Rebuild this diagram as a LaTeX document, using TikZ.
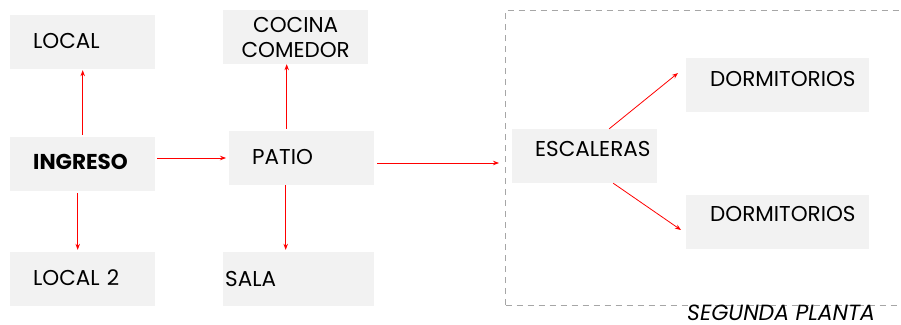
\documentclass[tikz,border=0pt]{standalone}
\usepackage{fontspec}
\setmainfont{Poppins}
\usetikzlibrary{arrows.meta,calc}
\definecolor{boxgray}{HTML}{F2F2F2}
\definecolor{framegray}{HTML}{A6A6A6}
\begin{document}
\begin{tikzpicture}[x=1pt,y=-1pt,
  box/.style={fill=boxgray, anchor=west, minimum height=54pt, inner ysep=0pt, inner xsep=0pt, align=left, font=\fontsize{21.5}{25}\selectfont},
  arr/.style={draw=red, line width=0.8pt, -{Stealth[length=6pt,width=4.5pt]}},
  frame/.style={draw=framegray, line width=1pt, dash pattern=on 6pt off 5pt}]
\useasboundingbox (0,0) rectangle (901,324);
% dashed frame (second floor)
\draw[frame] (505.5,305) -- (505.5,10) -- (930,10);
\draw[frame] (505.5,305) -- (930,305);
\coordinate (framewest) at (505.5,157);
% boxes
\node[box, text width=145pt] (LOCAL) at (10,42) {\hspace*{23pt}\raisebox{2pt}{LOCAL}};
\node[box, text width=145pt] (INGRESO) at (10,164) {\hspace*{23pt}\raisebox{4pt}{\textbf{INGRESO}}};
\node[box, text width=145pt] (LOCAL2) at (10,279) {\hspace*{23pt}\raisebox{2pt}{LOCAL 2}};
\node[box, text width=145pt, align=center] (COCINA) at (223,37) {COCINA\\COMEDOR};
\node[box, text width=145pt] (PATIO) at (229,158) {\hspace*{23pt}\raisebox{2.5pt}{PATIO}};
\node[box, text width=151pt] (SALA) at (223,279) {\hspace*{2pt}\raisebox{1pt}{SALA}};
\node[box, text width=145pt] (ESCALERAS) at (512,156) {\hspace*{23pt}\raisebox{15pt}{ESCALERAS}};
\node[box, text width=183pt] (DORM1) at (686,85) {\hspace*{24pt}\raisebox{13pt}{DORMITORIOS}};
\node[box, text width=183pt] (DORM2) at (686,222) {\hspace*{24pt}\raisebox{17pt}{DORMITORIOS}};
\node[anchor=base west, inner sep=0pt, font=\fontsize{22}{26}\selectfont\itshape] (SEGUNDA) at (687,320) {SEGUNDA PLANTA};
% connectors
\draw[arr, shorten <=2pt, shorten >=1pt] (INGRESO.north) -- (LOCAL.south);
\draw[arr, shorten <=2pt, shorten >=2pt] ([xshift=-5pt]INGRESO.south) -- ([xshift=-5pt]INGRESO.south |- LOCAL2.north);
\draw[arr, shorten <=2pt, shorten >=3pt] ([yshift=6pt]INGRESO.east) -- (PATIO.west);
\draw[arr, shorten <=2pt, shorten >=0pt] ([xshift=-15pt]PATIO.north) -- ([xshift=-15pt]PATIO.north |- COCINA.south);
\draw[arr, shorten <=0pt, shorten >=2pt] ([xshift=-16pt]PATIO.south) -- ([xshift=-16pt]PATIO.south |- SALA.north);
\draw[arr, shorten <=3pt, shorten >=6.5pt] ([yshift=-5pt]PATIO.east) -- ([yshift=-5pt]PATIO.east -| framewest);
\draw[arr] ([xshift=24.5pt]ESCALERAS.north) -- ([shift={(-8pt,12pt)}]DORM1.west);
\draw[arr] ([xshift=28.5pt]ESCALERAS.south) -- ([shift={(-5pt,-8pt)}]DORM2.west);
\end{tikzpicture}
\end{document}
